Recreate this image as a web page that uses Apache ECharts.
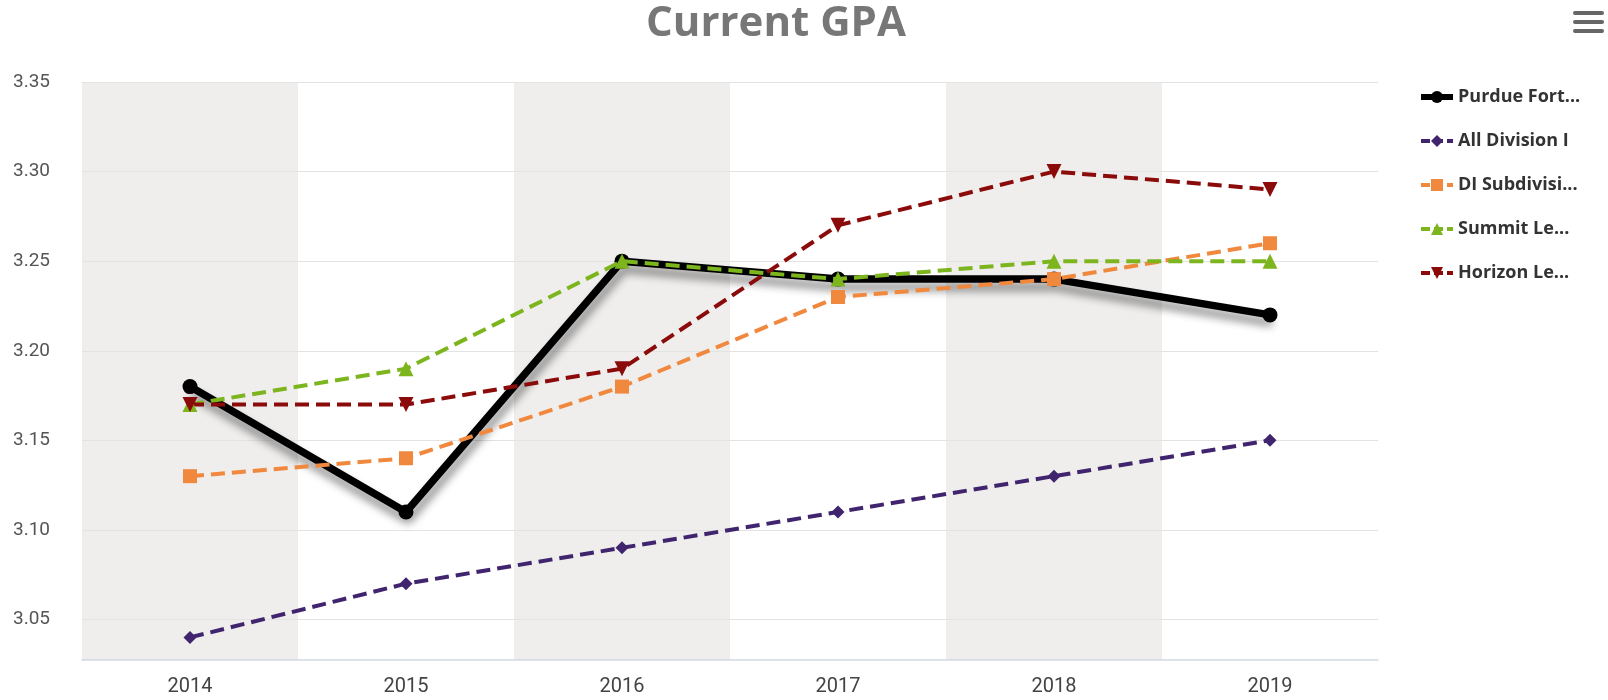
<!DOCTYPE html>
<html>
<head>
<meta charset="utf-8">
<script src="https://cdn.jsdelivr.net/npm/echarts@6/dist/echarts.min.js"></script>
<style>html,body{margin:0;padding:0;background:#fff}#c{width:1608px;height:700px}</style>
</head>
<body>
<div id="c"></div>
<script>
const years = ['2014','2015','2016','2017','2018','2019'];
const seriesNames = ['Purdue Fort Wayne','All Division I','DI Subdivision','Summit League','Horizon League'];
const legendLabels = ['Purdue Fort...','All Division I','DI Subdivisi...','Summit Le...','Horizon Le...'];
const purdue = [3.18, 3.11, 3.25, 3.24, 3.24, 3.22];
const allDivI = [3.04, 3.07, 3.09, 3.11, 3.13, 3.15];
const diSub = [3.13, 3.14, 3.18, 3.23, 3.24, 3.26];
const summit = [3.17, 3.19, 3.25, 3.24, 3.25, 3.25];
const horizon = [3.17, 3.17, 3.19, 3.27, 3.30, 3.29];

const chart = echarts.init(document.getElementById('c'));
const font = '"Open Sans", Lato, sans-serif';
function dashed(name, data, color, symbol, size, rotate) {
  return {
    name, type: 'line', data, symbol, symbolSize: size, symbolRotate: rotate || 0,
    lineStyle: { color, width: 4, type: [14, 7] },
    itemStyle: { color },
    animation: false
  };
}
chart.setOption({
  animation: false,
  title: {
    text: 'Current GPA', left: 771, top: -2, textAlign: 'center',
    textStyle: { fontFamily: font, fontSize: 42, fontWeight: 'bold', color: '#777' }
  },
  legend: {
    orient: 'vertical', left: 1413, top: 83, itemWidth: 32, itemHeight: 15, itemGap: 26,
    data: seriesNames.map((n, i) => i === 0
      ? { name: n, lineStyle: { width: 6, type: 'solid' } }
      : { name: n, lineStyle: { width: 4, type: [9, 4] } }),
    formatter: n => legendLabels[seriesNames.indexOf(n)],
    textStyle: { fontFamily: font, fontSize: 18, fontWeight: 'bold', color: '#333' }
  },
  grid: { left: 82, right: 230, top: 82, bottom: 40 },
  xAxis: {
    type: 'category', data: years, boundaryGap: true, z: 0,
    axisLine: { lineStyle: { color: '#ccd6eb', width: 1.5 } },
    axisTick: { show: false },
    axisLabel: { fontFamily: 'Roboto, sans-serif', fontSize: 20, color: '#444', margin: 17 },
    splitArea: { show: true, areaStyle: { color: ['#efeeed', '#ffffff'] } }
  },
  yAxis: {
    type: 'value', min: 3.0274, max: 3.35, splitNumber: 6, z: 1,
    axisLine: { show: false }, axisTick: { show: false },
    axisLabel: { fontFamily: 'Roboto, sans-serif', fontSize: 19, color: '#555', align: 'left', margin: 69,
      showMinLabel: false, formatter: v => v.toFixed(2) },
    splitLine: { lineStyle: { color: '#e3e3e3', width: 1 } }
  },
  graphic: [
    { type: 'rect', shape: { x: 1573, y: 11, width: 31, height: 4, r: 2 }, style: { fill: '#666' } },
    { type: 'rect', shape: { x: 1573, y: 20, width: 31, height: 4, r: 2 }, style: { fill: '#666' } },
    { type: 'rect', shape: { x: 1573, y: 29, width: 31, height: 4, r: 2 }, style: { fill: '#666' } }
  ],
  series: [
    {
      name: seriesNames[0], type: 'line', data: purdue, symbol: 'circle', symbolSize: 15, z: 2,
      lineStyle: { color: '#000', width: 7.5, shadowColor: 'rgba(0,0,0,0.45)', shadowBlur: 9, shadowOffsetX: 2, shadowOffsetY: 8 },
      itemStyle: { color: '#000' }
    },
    dashed(seriesNames[1], allDivI, '#40256e', 'diamond', 13),
    dashed(seriesNames[2], diSub, '#f0883e', 'rect', 14),
    dashed(seriesNames[3], summit, '#7db51f', 'triangle', 15),
    dashed(seriesNames[4], horizon, '#8b0a0a', 'triangle', 15, 180)
  ]
});
</script>
</body>
</html>
